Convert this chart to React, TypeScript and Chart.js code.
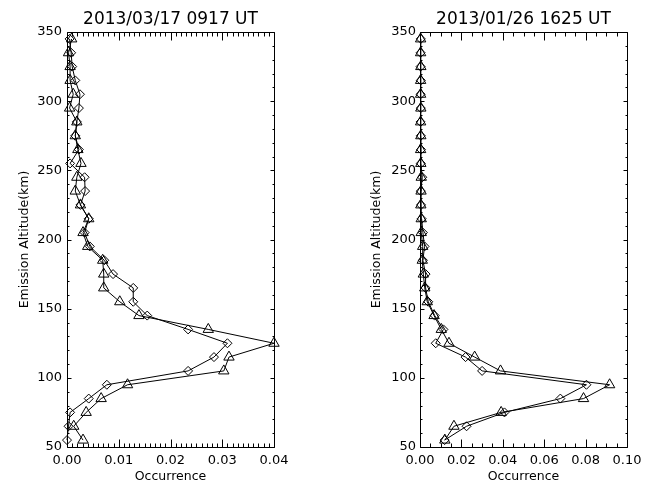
import React, { useEffect, useRef } from "react";
import { Chart, registerables } from "chart.js";

Chart.register(...registerables);

// ---------------- data ----------------
const ALTITUDES = [55, 65, 75, 85, 95, 105, 115, 125, 135, 145, 155, 165, 175, 185, 195, 205, 215, 225, 235, 245, 255, 265, 275, 285, 295, 305, 315, 325, 335, 345];

const LEFT_TITLE = "2013/03/17 0917 UT";
const RIGHT_TITLE = "2013/01/26 1625 UT";
const X_TITLE = "Occurrence";
const Y_TITLE = "Emission Altitude(km)";

const LEFT_DIAMOND = [0.0000, 0.0003, 0.0006, 0.0042, 0.0077, 0.0234, 0.0284, 0.0310, 0.0234, 0.0155, 0.0128, 0.0128, 0.0089, 0.0072, 0.0044, 0.0034, 0.0042, 0.0026, 0.0035, 0.0034, 0.0006, 0.0023, 0.0016, 0.0019, 0.0023, 0.0025, 0.0016, 0.0010, 0.0008, 0.0005];
const LEFT_TRIANGLE = [0.0031, 0.0013, 0.0037, 0.0066, 0.0117, 0.0303, 0.0313, 0.0400, 0.0273, 0.0139, 0.0102, 0.0071, 0.0071, 0.0069, 0.0040, 0.0031, 0.0042, 0.0026, 0.0016, 0.0019, 0.0027, 0.0021, 0.0016, 0.0019, 0.0005, 0.0012, 0.0006, 0.0006, 0.0003, 0.0009];

const RIGHT_DIAMOND = [0.0119, 0.0225, 0.0408, 0.0678, 0.0804, 0.0300, 0.0220, 0.0076, 0.0113, 0.0071, 0.0040, 0.0027, 0.0027, 0.0014, 0.0022, 0.0014, 0.0008, 0.0005, 0.0004, 0.0011, 0.0004, 0.0005, 0.0004, 0.0003, 0.0004, 0.0003, 0.0004, 0.0003, 0.0003, 0.0004];
const RIGHT_TRIANGLE = [0.0120, 0.0164, 0.0392, 0.0790, 0.0916, 0.0389, 0.0264, 0.0140, 0.0103, 0.0068, 0.0035, 0.0023, 0.0016, 0.0011, 0.0013, 0.0006, 0.0006, 0.0004, 0.0005, 0.0006, 0.0004, 0.0003, 0.0004, 0.0003, 0.0004, 0.0003, 0.0003, 0.0004, 0.0003, 0.0003];

const Y_MIN = 50;
const Y_MAX = 350;
const Y_MAJOR = 50;
const Y_MINOR = 10;

const LEFT_X_MAX = 0.04;
const LEFT_X_MAJOR = 0.01;
const LEFT_X_MINOR = 0.001;
const RIGHT_X_MAX = 0.1;
const RIGHT_X_MAJOR = 0.02;
const RIGHT_X_MINOR = 0.005;

const FONT = "'DejaVu Sans', sans-serif";

// IDL-style frame with inward ticks on all four sides
const framePlugin = {
  id: "idlFrame",
  beforeDatasetsDraw(chart: any, _args: any, opts: any) {
    const { ctx, chartArea: a, scales } = chart;
    const xs = scales.x;
    const ys = scales.y;
    const px = (v: number) => Math.round(v) + 0.5;
    ctx.save();
    ctx.strokeStyle = "#000";
    ctx.lineWidth = 1;
    const L = px(a.left), R = px(a.right), T = px(a.top), B = px(a.bottom);
    ctx.beginPath();
    ctx.rect(L, T, R - L, B - T);
    ctx.stroke();

    ctx.beginPath();
    const nx = Math.round(opts.xMax / opts.xMinor);
    const xr = Math.round(opts.xMajor / opts.xMinor);
    for (let i = 0; i <= nx; i++) {
      const x = px(xs.getPixelForValue(i * opts.xMinor));
      const len = i % xr === 0 ? 8 : 4;
      ctx.moveTo(x, B); ctx.lineTo(x, B - len);
      ctx.moveTo(x, T); ctx.lineTo(x, T + len);
    }
    const ny = Math.round((Y_MAX - Y_MIN) / Y_MINOR);
    const yr = Math.round(Y_MAJOR / Y_MINOR);
    for (let i = 0; i <= ny; i++) {
      const y = px(ys.getPixelForValue(Y_MIN + i * Y_MINOR));
      const len = i % yr === 0 ? 4 : 2;
      ctx.moveTo(L, y); ctx.lineTo(L + len, y);
      ctx.moveTo(R, y); ctx.lineTo(R - len, y);
    }
    ctx.stroke();
    ctx.restore();
  },
};

type PanelProps = {
  title: string;
  diamonds: number[];
  triangles: number[];
  xMax: number;
  xMajor: number;
  xMinor: number;
  yAxisWidth: number;
  rightPad: number;
  yTitlePad: number;
  yTickPad: number;
};

function Panel(p: PanelProps) {
  const ref = useRef<HTMLCanvasElement | null>(null);
  useEffect(() => {
    if (!ref.current) return;
    const mk = (vals: number[]) => ALTITUDES.map((alt, i) => ({ x: vals[i], y: alt }));
    const chart = new Chart(ref.current, {
      type: "scatter",
      data: {
        datasets: [
          {
            data: mk(p.diamonds),
            showLine: true,
            borderColor: "#000",
            borderWidth: 1,
            pointStyle: "rectRot",
            pointRadius: 4.5,
            pointBorderColor: "#000",
            pointBackgroundColor: "rgba(0,0,0,0)",
            pointBorderWidth: 1,
            clip: false,
          } as any,
          {
            data: mk(p.triangles),
            showLine: true,
            borderColor: "#000",
            borderWidth: 1,
            pointStyle: "triangle",
            pointRadius: 6,
            pointBorderColor: "#000",
            pointBackgroundColor: "rgba(0,0,0,0)",
            pointBorderWidth: 1,
            clip: false,
          } as any,
        ],
      },
      options: {
        responsive: false,
        animation: false,
        events: [],
        layout: { padding: { left: 0, right: p.rightPad, top: 0, bottom: 0 } },
        plugins: {
          legend: { display: false },
          tooltip: { enabled: false },
          title: {
            display: true,
            text: p.title,
            color: "#000",
            fullSize: false,
            font: { family: FONT, size: 17, weight: "normal" as any, lineHeight: 1.2 },
            padding: { top: 9.8, bottom: 1.8 },
          },
          idlFrame: { xMax: p.xMax, xMajor: p.xMajor, xMinor: p.xMinor },
        } as any,
        scales: {
          x: {
            type: "linear",
            min: 0,
            max: p.xMax,
            grid: { display: false, drawTicks: false, tickLength: 0 },
            border: { display: false },
            ticks: {
              stepSize: p.xMajor,
              color: "#000",
              padding: 6,
              maxRotation: 0,
              autoSkip: false,
              font: { family: FONT, size: 13 },
              callback: (v: any) => Number(v).toFixed(2),
            },
            title: {
              display: true,
              text: X_TITLE,
              color: "#000",
              font: { family: FONT, size: 12.5 },
              padding: { top: 0, bottom: 0.5 },
            },
            afterFit: (s: any) => { s.height = 38; },
          },
          y: {
            type: "linear",
            min: Y_MIN,
            max: Y_MAX,
            grid: { display: false, drawTicks: false, tickLength: 0 },
            border: { display: false },
            ticks: {
              stepSize: Y_MAJOR,
              color: "#000",
              padding: p.yTickPad,
              autoSkip: false,
              font: { family: FONT, size: 13 },
            },
            title: {
              display: true,
              text: Y_TITLE,
              color: "#000",
              font: { family: FONT, size: 12.5 },
              padding: { top: p.yTitlePad, bottom: 0 },
            },
            afterFit: (s: any) => { s.width = p.yAxisWidth; },
          },
        } as any,
      },
      plugins: [framePlugin],
    });
    return () => chart.destroy();
  }, []);
  return <canvas ref={ref} width={326} height={485} style={{ display: "block", width: 326, height: 485 }} />;
}

export default function App() {
  useEffect(() => {
    document.body.style.margin = "0";
    document.body.style.background = "#fff";
  }, []);
  return (
    <div style={{ position: "absolute", left: 0, top: 0, width: 652, height: 485, background: "#fff", display: "flex" }}>
      <Panel
        title={LEFT_TITLE}
        diamonds={LEFT_DIAMOND}
        triangles={LEFT_TRIANGLE}
        xMax={LEFT_X_MAX}
        xMajor={LEFT_X_MAJOR}
        xMinor={LEFT_X_MINOR}
        yAxisWidth={67}
        rightPad={52}
        yTitlePad={17.5}
        yTickPad={5}
      />
      <Panel
        title={RIGHT_TITLE}
        diamonds={RIGHT_DIAMOND}
        triangles={RIGHT_TRIANGLE}
        xMax={RIGHT_X_MAX}
        xMajor={RIGHT_X_MAJOR}
        xMinor={RIGHT_X_MINOR}
        yAxisWidth={94}
        rightPad={25}
        yTitlePad={43.5}
        yTickPad={4}
      />
    </div>
  );
}
